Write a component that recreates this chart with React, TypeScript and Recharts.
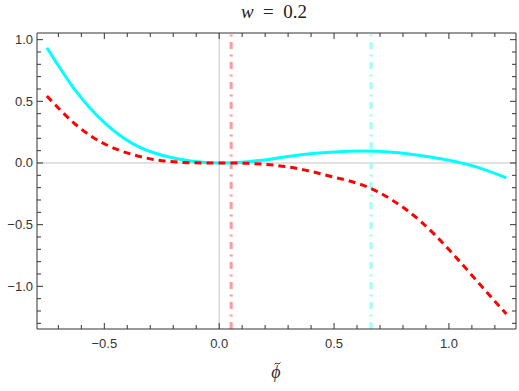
import { LineChart, Line, XAxis, YAxis, ReferenceLine } from 'recharts';

// phi-tilde sample points and the two curves
const PHI = [-0.75, -0.625, -0.5, -0.375, -0.25, -0.125, 0, 0.125, 0.25, 0.375, 0.5, 0.625, 0.75, 0.875, 1.0, 1.125, 1.25];
const CYAN_VALUES = [0.935, 0.586, 0.327, 0.155, 0.063, 0.016, 0, 0.0103, 0.039, 0.071, 0.09, 0.097, 0.088, 0.061, 0.022, -0.035, -0.12];
const RED_VALUES = [0.543, 0.312, 0.156, 0.067, 0.019, 0.0025, 0, -0.003, -0.02, -0.058, -0.115, -0.18, -0.297, -0.47, -0.702, -0.963, -1.225];

// vertical markers
const RED_MARK = 0.052;
const CYAN_MARK = 0.661;

const X_TICKS = [-0.7, -0.6, -0.5, -0.4, -0.3, -0.2, -0.1, 0, 0.1, 0.2, 0.3, 0.4, 0.5, 0.6, 0.7, 0.8, 0.9, 1.0, 1.1, 1.2];
const Y_TICKS = [-1.3, -1.2, -1.1, -1.0, -0.9, -0.8, -0.7, -0.6, -0.5, -0.4, -0.3, -0.2, -0.1, 0, 0.1, 0.2, 0.3, 0.4, 0.5, 0.6, 0.7, 0.8, 0.9, 1.0];
const X_DOMAIN: [number, number] = [-0.793, 1.292];
const Y_DOMAIN: [number, number] = [-1.346, 1.054];

const data = PHI.map((x, i) => ({ x, cyan: CYAN_VALUES[i], red: RED_VALUES[i] }));

const FRAME = '#333';
const LABEL_FONT = '"Liberation Sans", Arial, sans-serif';
const MATH_FONT = '"Liberation Serif", serif';

const isMajor = (v: number) => Math.abs(v * 2 - Math.round(v * 2)) < 1e-6;
const fmt = (v: number) => v.toFixed(1).replace('-', '\u2212');

type TickProps = { x?: number; y?: number; payload?: { value: number } };

function BottomTick({ x = 0, y = 0, payload }: TickProps) {
  const v = payload?.value ?? 0;
  const major = isMajor(v);
  return (
    <g>
      <line x1={x} x2={x} y1={y} y2={y - (major ? 6 : 4)} stroke={FRAME} />
      {major && (
        <text x={x} y={y + 19} textAnchor="middle" fill="#333" fontSize={13} fontFamily={LABEL_FONT}>
          {fmt(v)}
        </text>
      )}
    </g>
  );
}

function TopTick({ x = 0, y = 0, payload }: TickProps) {
  const major = isMajor(payload?.value ?? 0);
  return <line x1={x} x2={x} y1={y} y2={y + (major ? 6 : 4)} stroke={FRAME} />;
}

function LeftTick({ x = 0, y = 0, payload }: TickProps) {
  const v = payload?.value ?? 0;
  const major = isMajor(v);
  return (
    <g>
      <line x1={x} x2={x + (major ? 6 : 4)} y1={y} y2={y} stroke={FRAME} />
      {major && (
        <text x={x - 4} y={y + 4.5} textAnchor="end" fill="#333" fontSize={13} fontFamily={LABEL_FONT}>
          {fmt(v)}
        </text>
      )}
    </g>
  );
}

function RightTick({ x = 0, y = 0, payload }: TickProps) {
  const major = isMajor(payload?.value ?? 0);
  return <line x1={x} x2={x - (major ? 6 : 4)} y1={y} y2={y} stroke={FRAME} />;
}

export default function App() {
  return (
    <div style={{ position: 'absolute', left: 0, top: 0, width: 519, height: 391, background: '#fff' }}>
      <LineChart width={519} height={391} data={data} margin={{ top: 0, right: 0, left: 0, bottom: 0 }}>
        <XAxis
          xAxisId="b"
          dataKey="x"
          type="number"
          domain={X_DOMAIN}
          ticks={X_TICKS}
          allowDataOverflow
          height={62}
          tickSize={0}
          tickMargin={0}
          tickLine={false}
          axisLine={{ stroke: FRAME }}
          tick={<BottomTick />}
          interval={0}
        />
        <XAxis
          xAxisId="t"
          orientation="top"
          dataKey="x"
          type="number"
          domain={X_DOMAIN}
          ticks={X_TICKS}
          allowDataOverflow
          height={33}
          tickSize={0}
          tickMargin={0}
          tickLine={false}
          axisLine={{ stroke: FRAME }}
          tick={<TopTick />}
          interval={0}
        />
        <YAxis
          yAxisId="l"
          type="number"
          domain={Y_DOMAIN}
          ticks={Y_TICKS}
          allowDataOverflow
          width={37}
          tickSize={0}
          tickMargin={0}
          tickLine={false}
          axisLine={{ stroke: FRAME }}
          tick={<LeftTick />}
          interval={0}
        />
        <YAxis
          yAxisId="r"
          orientation="right"
          type="number"
          domain={Y_DOMAIN}
          ticks={Y_TICKS}
          allowDataOverflow
          width={3}
          tickSize={0}
          tickMargin={0}
          tickLine={false}
          axisLine={{ stroke: FRAME }}
          tick={<RightTick />}
          interval={0}
        />
        <ReferenceLine xAxisId="b" yAxisId="l" y={0} stroke="#c4c4c4" />
        <ReferenceLine xAxisId="b" yAxisId="l" x={0} stroke="#c4c4c4" />
        <ReferenceLine
          xAxisId="b"
          yAxisId="l"
          x={RED_MARK}
          stroke="#ff9a9a"
          strokeWidth={3}
          strokeDasharray="7 5.5 2 5.5"
        />
        <ReferenceLine
          xAxisId="b"
          yAxisId="l"
          x={CYAN_MARK}
          stroke="#9affff"
          strokeWidth={3}
          strokeDasharray="7 5.5 2 5.5"
        />
        <Line
          xAxisId="b"
          yAxisId="l"
          type="natural"
          dataKey="cyan"
          stroke="#00ffff"
          strokeWidth={3}
          dot={false}
          isAnimationActive={false}
        />
        <Line
          xAxisId="b"
          yAxisId="l"
          type="natural"
          dataKey="red"
          stroke="#ff0000"
          strokeWidth={3}
          strokeDasharray="7 5"
          dot={false}
          isAnimationActive={false}
        />
      </LineChart>
      <div
        style={{
          position: 'absolute',
          left: 274,
          top: 2,
          transform: 'translateX(-50%)',
          fontFamily: MATH_FONT,
          fontSize: 19,
          lineHeight: '20px',
          whiteSpace: 'pre',
          color: '#222',
        }}
      >
        <i>w</i>
        {'\u2002=\u20020.2'}
      </div>
      <div
        style={{
          position: 'absolute',
          left: 276,
          top: 362,
          transform: 'translateX(-50%)',
          fontFamily: MATH_FONT,
          fontSize: 18,
          lineHeight: '20px',
          color: '#333',
        }}
      >
        <i>{'\u03D5'}</i>
      </div>
      {/* tilde accent over the phi */}
      <svg style={{ position: 'absolute', left: 272, top: 360, overflow: 'visible' }} width={10} height={6}>
        <path d="M2.5 4.5 Q4 2.2 5.5 3.5 T8.5 2.5" fill="none" stroke="#333" strokeWidth={1} />
      </svg>
    </div>
  );
}
